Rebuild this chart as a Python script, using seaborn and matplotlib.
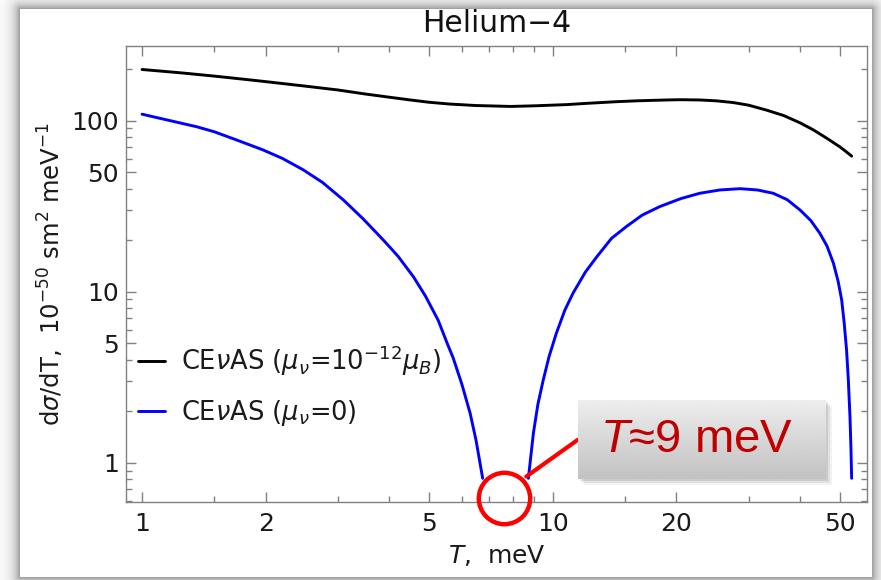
import numpy as np
import pandas as pd
import matplotlib
matplotlib.use('Agg')
import matplotlib.pyplot as plt
import seaborn as sns
from matplotlib.patches import Rectangle
from matplotlib.ticker import FixedLocator, NullFormatter, FuncFormatter

# readings: T in meV, dsigma/dT in 1e-50 sm^2 meV^-1
black_T = [1, 1.25, 1.5, 1.75, 2, 2.5, 3, 3.5, 4, 4.5, 5, 5.6, 6.5, 7.9, 9, 10.8, 12,
           14.3, 16, 18.9, 20.5, 22.8, 25, 27.5, 30, 33.2, 36.5, 40, 43, 46.4, 50, 52, 53.4]
black_y = [199, 190, 182, 175, 169, 159, 151, 143, 137, 132, 128, 125, 122.5, 121, 122,
           124, 126, 129, 130.5, 132, 132.5, 132, 130.5, 127.5, 123, 115, 107, 97, 88.5,
           79, 70.2, 65.3, 62]

blue_left_T = [1, 1.36, 1.5, 1.7, 1.97, 2.2, 2.47, 2.75, 3.09, 3.45, 3.87, 4.2, 4.58,
               4.9, 5.26, 5.53, 5.72, 6.0, 6.29, 6.5, 6.75]
blue_left_y = [109, 92, 86, 77, 67.4, 60, 51.5, 43.5, 34.4, 26.7, 20.0, 16.1, 12.2,
               9.4, 6.8, 5.0, 4.1, 2.9, 1.95, 1.36, 0.81]

blue_right_T = [8.72, 8.97, 9.2, 9.48, 9.8, 10.2, 10.7, 11.2, 12.0, 12.8, 13.9, 15.1,
                16.5, 18.2, 20.5, 22.8, 25.5, 28.6, 31.5, 34.4, 37.2, 40.0, 42.5, 44.7,
                46.5, 48.2, 49.5, 50.5, 51.2, 51.9, 52.4, 52.9, 53.2, 53.4]
blue_right_y = [0.81, 1.49, 2.2, 3.05, 4.2, 5.71, 7.8, 9.79, 13.0, 16.0, 20.5, 24.0,
                28.0, 31.4, 35.0, 37.6, 39.3, 40.0, 39.3, 37.6, 34.5, 30.0, 26.0, 21.9,
                18.5, 14.7, 11.5, 8.94, 6.6, 4.56, 3.1, 1.86, 1.2, 0.81]

label_black = r"CE$\nu$AS ($\mu_\nu$=10$^{-12}\mu_B$)"
label_blue = r"CE$\nu$AS ($\mu_\nu$=0)"

x_major = [1, 2, 5, 10, 20, 50]
x_minor = [1.5, 3, 4, 6, 7, 8, 9, 15, 30, 40]
y_major = [1, 5, 10, 50, 100]
y_minor = [0.6, 0.7, 0.8, 0.9, 2, 3, 4, 6, 7, 8, 9, 20, 30, 40, 60, 70, 80, 90, 200]

sns.set_theme(style="ticks")
plt.rcParams['font.family'] = ['DejaVu Sans']
plt.rcParams.update({
    'mathtext.fontset': 'dejavusans',
    # used only by the call-out text (math_fontfamily='custom')
    'mathtext.rm': 'Liberation Sans',
    'mathtext.it': 'Liberation Sans:italic',
    'mathtext.bf': 'Liberation Sans:bold',
})

df = pd.concat([
    pd.DataFrame({'T': black_T, 'value': black_y, 'series': label_black, 'branch': 'a'}),
    pd.DataFrame({'T': blue_left_T, 'value': blue_left_y, 'series': label_blue, 'branch': 'b'}),
    pd.DataFrame({'T': blue_right_T, 'value': blue_right_y, 'series': label_blue, 'branch': 'c'}),
], ignore_index=True)

fig = plt.figure(figsize=(8.81, 5.80), dpi=100)
fig.patch.set_facecolor('white')

# soft grey shadow around the white slide panel
H, W = 580, 881
yy, xx = np.mgrid[0:H, 0:W]
dx = np.maximum(np.maximum(20 - xx, xx - 871), 0)
dy = np.maximum(np.maximum(9 - yy, yy - 576), 0)
dist = np.hypot(dx, dy)
shade = 1 - 0.42 * np.exp(-dist / 7.0)
shade[dist == 0] = 1.0
fig.figimage(shade, xo=0, yo=0, cmap='gray', vmin=0, vmax=1, origin='upper', zorder=-1)

ax = fig.add_axes([126 / 881, 1 - 502 / 580, 741 / 881, 456 / 580])
ax.set_xscale('log')
ax.set_yscale('log')

sns.lineplot(data=df, x='T', y='value', hue='series', units='branch', estimator=None,
             hue_order=[label_black, label_blue],
             palette={label_black: 'black', label_blue: '#0000ff'},
             linewidth=2.1, sort=False, ax=ax)

ax.set_xlim(0.914, 58.2)
ax.set_ylim(0.589, 273)

ax.xaxis.set_major_locator(FixedLocator(x_major))
ax.xaxis.set_minor_locator(FixedLocator(x_minor))
ax.yaxis.set_major_locator(FixedLocator(y_major))
ax.yaxis.set_minor_locator(FixedLocator(y_minor))
fmt = FuncFormatter(lambda v, p: f"{v:g}")
ax.xaxis.set_major_formatter(fmt)
ax.yaxis.set_major_formatter(fmt)
ax.xaxis.set_minor_formatter(NullFormatter())
ax.yaxis.set_minor_formatter(NullFormatter())

ax.tick_params(which='both', direction='in', top=True, right=True, color='#808080',
               width=1, labelsize=18, labelcolor='#1a1a1a')
ax.tick_params(which='major', length=7)
ax.tick_params(which='minor', length=4)
ax.tick_params(axis='x', pad=7)
ax.tick_params(axis='y', pad=5)
for s in ax.spines.values():
    s.set_color('#808080')
    s.set_linewidth(1)

ax.set_title("Helium\u22124", fontsize=21.5, pad=10, color='#111111')
ax.set_xlabel(r"$T$,  meV", fontsize=18, labelpad=5, color='#1a1a1a')
ax.set_ylabel(r"d$\sigma$/dT,  10$^{-50}$ sm$^2$ meV$^{-1}$", fontsize=17.5, labelpad=4,
              color='#1a1a1a')

handles, labels = ax.get_legend_handles_labels()
leg = ax.legend(handles, labels, loc='upper left', bbox_to_anchor=(0.0158, 0.348),
                frameon=False, fontsize=18.5, handlelength=1.05, handletextpad=0.62,
                labelspacing=0.8, borderpad=0, borderaxespad=0)
for t in leg.get_texts():
    t.set_color('#1a1a1a')

# red marker circle and leader line
ax.plot([7.6], [0.62], marker='o', ms=37, mfc='none', mec='#ff0000', mew=3.2,
        clip_on=False, zorder=6)
ax.plot([8.62, 11.5], [0.83, 1.36], color='#ff0000', lw=3, clip_on=False, zorder=6)

# grey gradient call-out box with a soft shadow
bx, by, bw, bh = 578 / 881, 1 - 479 / 580, 248 / 881, 79 / 580
for k, a in zip([6, 4, 2], [0.05, 0.07, 0.09]):
    fig.add_artist(Rectangle((bx + k / 881, by - k / 580), bw, bh, transform=fig.transFigure,
                             facecolor='black', edgecolor='none', alpha=a, zorder=4))
bax = fig.add_axes([bx, by, bw, bh], zorder=5)
grad = np.linspace(0.93, 0.76, 64).reshape(-1, 1)
bax.imshow(grad, cmap='gray', vmin=0, vmax=1, aspect='auto', extent=[0, 1, 0, 1],
           origin='upper')
bax.set_axis_off()
bax.text(0.48, 0.5, r"$T$≈9 meV", color='#c00000', fontsize=34, ha='center', va='center',
         family=['Liberation Sans', 'DejaVu Sans'], math_fontfamily='custom',
         transform=bax.transAxes)

fig.savefig('out.png', dpi=100)
